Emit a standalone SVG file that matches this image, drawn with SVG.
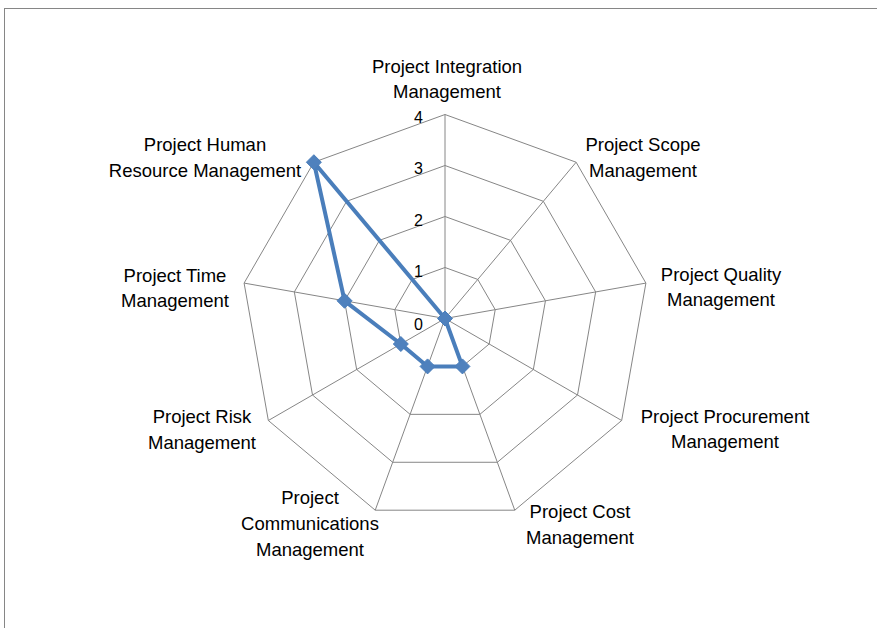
<svg xmlns="http://www.w3.org/2000/svg" width="877" height="628" viewBox="0 0 877 628">
<style>
.grid{fill:none;stroke:#868686;stroke-width:1}
.lbl{font-family:"Liberation Sans",Arial,sans-serif;font-size:18.5px;fill:#000;text-anchor:middle}
.tick{font-family:"Liberation Sans",Arial,sans-serif;font-size:16px;fill:#000;text-anchor:end}
.series{fill:none;stroke:#4A7EBB;stroke-width:4;stroke-linejoin:round}
</style>
<defs>
<path id="dia" d="M0,-7.5 L7.5,0 L0,7.5 L-7.5,0 Z" fill="#4F81BD" stroke="#4A7EBB" stroke-width="1"/>
</defs>
<rect x="0" y="0" width="877" height="628" fill="#fff"/>
<rect x="4.5" y="8.5" width="900" height="700" fill="none" stroke="#868686" stroke-width="1"/>
<g id="grid">
<polygon class="grid" points="445,267.5 477.78,279.43 495.23,309.64 489.17,344 462.44,366.42 427.56,366.42 400.83,344 394.77,309.64 412.22,279.43"/>
<polygon class="grid" points="445,216.5 510.56,240.36 545.45,300.79 533.33,369.5 479.89,414.35 410.11,414.35 356.67,369.5 344.55,300.79 379.44,240.36"/>
<polygon class="grid" points="445,165.5 543.35,201.3 595.67,291.93 577.5,395 497.33,462.28 392.67,462.28 312.5,395 294.33,291.93 346.65,201.3"/>
<polygon class="grid" points="445,114.5 576.13,162.23 645.9,283.08 621.67,420.5 514.77,510.2 375.23,510.2 268.33,420.5 244.1,283.08 313.87,162.23"/>
<path class="grid" d="M445,318.5L445,114.5M445,318.5L576.13,162.23M445,318.5L645.9,283.08M445,318.5L621.67,420.5M445,318.5L514.77,510.2M445,318.5L375.23,510.2M445,318.5L268.33,420.5M445,318.5L244.1,283.08M445,318.5L313.87,162.23"/>
</g>
<g id="ticks">
<text class="tick" x="423" y="329.5">0</text>
<text class="tick" x="423" y="277">1</text>
<text class="tick" x="423" y="225.5">2</text>
<text class="tick" x="423" y="174">3</text>
<text class="tick" x="423" y="122.5">4</text>
</g>
<g id="connectors">
<path class="series" d="M445,318.5 L462.44,366.42 L427.56,366.42 L400.83,344 L344.55,300.79 L313.87,162.23 Z"/>
</g>
<g id="markers">
<use href="#dia" x="445" y="318.5"/>
<use href="#dia" x="462.44" y="366.42"/>
<use href="#dia" x="427.56" y="366.42"/>
<use href="#dia" x="400.83" y="344"/>
<use href="#dia" x="344.55" y="300.79"/>
<use href="#dia" x="313.87" y="162.23"/>
</g>
<g id="node-integration"><text class="lbl" x="447" y="73">Project Integration</text><text class="lbl" x="447" y="98">Management</text></g>
<g id="node-scope"><text class="lbl" x="643" y="151">Project Scope</text><text class="lbl" x="643" y="177">Management</text></g>
<g id="node-quality"><text class="lbl" x="721" y="281">Project Quality</text><text class="lbl" x="721" y="306">Management</text></g>
<g id="node-procurement"><text class="lbl" x="725" y="423">Project Procurement</text><text class="lbl" x="725" y="448">Management</text></g>
<g id="node-cost"><text class="lbl" x="580" y="518">Project Cost</text><text class="lbl" x="580" y="544">Management</text></g>
<g id="node-communications"><text class="lbl" x="310" y="504">Project</text><text class="lbl" x="310" y="530">Communications</text><text class="lbl" x="310" y="556">Management</text></g>
<g id="node-risk"><text class="lbl" x="202" y="423">Project Risk</text><text class="lbl" x="202" y="449">Management</text></g>
<g id="node-time"><text class="lbl" x="175" y="282">Project Time</text><text class="lbl" x="175" y="307">Management</text></g>
<g id="node-hr"><text class="lbl" x="205" y="151">Project Human</text><text class="lbl" x="205" y="177">Resource Management</text></g>
</svg>
